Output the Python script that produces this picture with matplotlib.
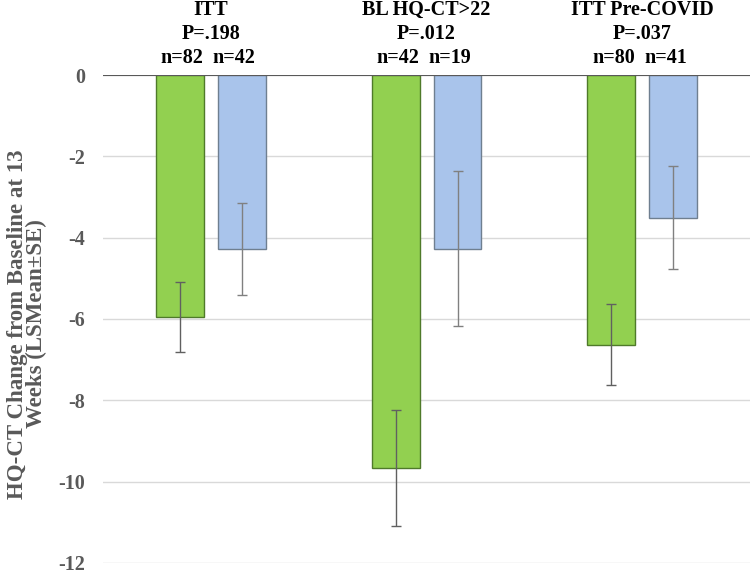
import numpy as np
import matplotlib.pyplot as plt

groups = ['ITT', 'BL HQ-CT>22', 'ITT Pre-COVID']
p_values = ['P=.198', 'P=.012', 'P=.037']
n_green = ['n=82', 'n=42', 'n=80']
n_blue = ['n=42', 'n=19', 'n=41']
green_mean = [-5.95, -9.67, -6.63]
green_se = [0.87, 1.43, 1.0]
blue_mean = [-4.28, -4.27, -3.51]
blue_se = [1.13, 1.9, 1.27]
yticks = [0, -2, -4, -6, -8, -10, -12]

plt.rcParams['font.family'] = ['Liberation Serif', 'DejaVu Serif']
plt.rcParams['font.weight'] = 'bold'

fig = plt.figure(figsize=(7.51, 5.74), dpi=100)
ax = fig.add_axes([0.137, 0.0195, 0.862, 0.8498])

x = np.arange(len(groups))
w = 0.222
off = 0.1435

ax.bar(x - off, green_mean, w, color='#92d050', edgecolor='#4f7a2a', linewidth=1, zorder=2)
ax.bar(x + off, blue_mean, w, color='#a9c4eb', edgecolor='#6f7f90', linewidth=1, zorder=2)
ax.errorbar(x - off, green_mean, yerr=green_se, fmt='none', ecolor='#606060',
            elinewidth=1, capsize=3.5, capthick=1, zorder=3)
ax.errorbar(x + off, blue_mean, yerr=blue_se, fmt='none', ecolor='#808080',
            elinewidth=1, capsize=3.5, capthick=1, zorder=3)

ax.set_xlim(-0.5, 2.5)
ax.set_ylim(-12, 0)
ax.set_yticks(yticks)
ax.set_yticklabels([str(t) for t in yticks])
ax.set_xticks([])
ax.grid(axis='y', color='#d9d9d9', linewidth=1, zorder=0)
ax.axhline(0, color='#595959', linewidth=1.5, zorder=4)
for s in ax.spines.values():
    s.set_visible(False)
ax.tick_params(axis='y', length=0, pad=13, labelsize=14.5, labelcolor='#595959')
for lbl in ax.get_yticklabels():
    lbl.set_fontweight('bold')

ax.set_ylabel('HQ-CT Change from Baseline at 13\nWeeks (LSMean±SE)',
              fontsize=16.5, color='#595959', fontweight='bold',
              linespacing=0.85)
ax.yaxis.set_label_coords(-0.086, 0.49)

for i in range(len(groups)):
    ax.annotate(groups[i], (x[i], 0), xytext=(0, 47), textcoords='offset points',
                ha='center', va='center', fontsize=14.5, fontweight='bold')
    ax.annotate(p_values[i], (x[i], 0), xytext=(0, 29.5), textcoords='offset points',
                ha='center', va='center', fontsize=14.5, fontweight='bold')
    ax.annotate(n_green[i], (x[i] - off + 0.01, 0), xytext=(0, 12.5), textcoords='offset points',
                ha='center', va='center', fontsize=14.5, fontweight='bold')
    ax.annotate(n_blue[i], (x[i] + off - 0.035, 0), xytext=(0, 12.5), textcoords='offset points',
                ha='center', va='center', fontsize=14.5, fontweight='bold')

fig.savefig('out.png', dpi=100)
